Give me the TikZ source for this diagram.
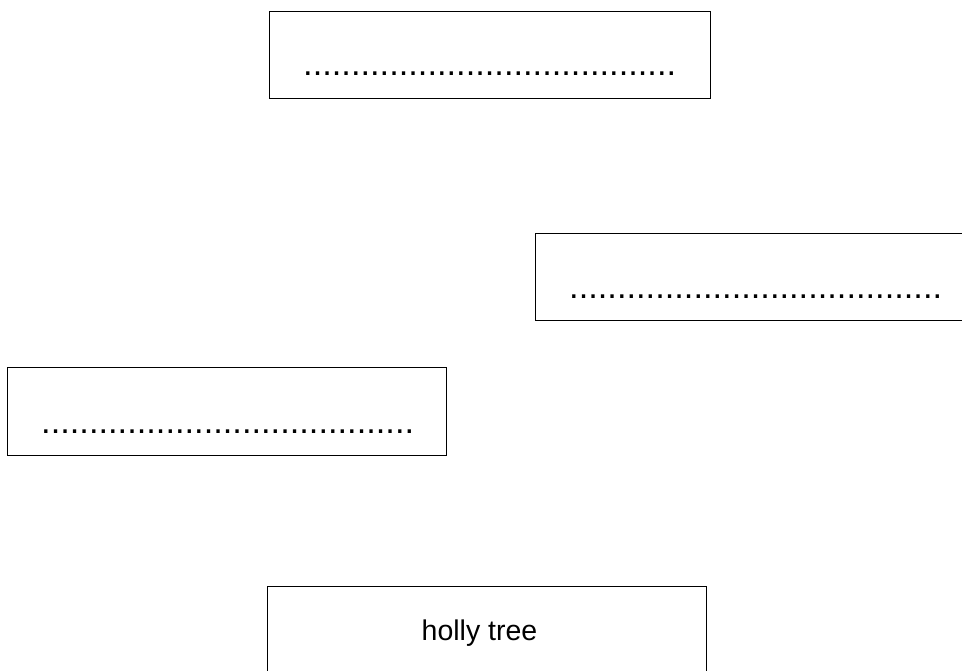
\documentclass[tikz,border=0pt]{standalone}
\usepackage{fontspec}
\setmainfont{Liberation Sans}
\begin{document}
\begin{tikzpicture}[x=1pt,y=-1pt,
  frame/.style={draw=black,line width=1pt,rectangle,inner sep=0pt,anchor=north west},
  dotline/.style={inner sep=0pt,anchor=base west,font=\fontsize{34.4}{40}\selectfont},
  label/.style={inner sep=0pt,anchor=base,font=\fontsize{28.5}{34}\selectfont}]
\useasboundingbox (0,0) rectangle (962,670);
\clip (0,0) rectangle (962,670);
\node[frame,minimum width=441pt,minimum height=87pt] (b1) at (269,11) {};
\node[frame,minimum width=440pt,minimum height=87pt] (b2) at (535,233) {};
\node[frame,minimum width=439pt,minimum height=88pt] (b3) at (7,367) {};
\node[frame,minimum width=439pt,minimum height=95pt] (b4) at (267,586) {};
\node[dotline] (d1) at (303,75) {.......................................};
\node[dotline] (d2) at (569,298) {.......................................};
\node[dotline] (d3) at (41,433) {.......................................};
\node[label] (t4) at (479.5,640) {holly tree};
\end{tikzpicture}
\end{document}
